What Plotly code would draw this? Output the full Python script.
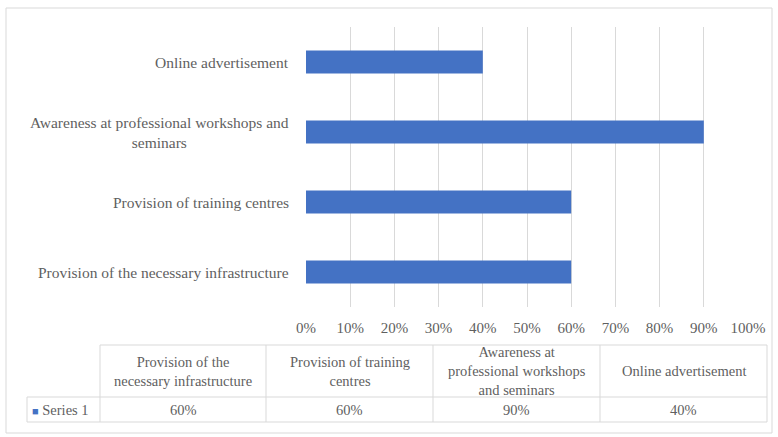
import plotly.graph_objects as go

categories = [
    "Provision of the necessary infrastructure",
    "Provision of training centres",
    "Awareness at professional workshops and<br>seminars",
    "Online advertisement",
]
values = [0.60, 0.60, 0.90, 0.40]
series_name = "Series 1"
table_headers = [
    "Provision of the<br>necessary infrastructure",
    "Provision of training<br>centres",
    "Awareness at<br>professional workshops<br>and seminars",
    "Online advertisement",
]
table_values = ["60%", "60%", "90%", "40%"]
tick_vals = [i / 10 for i in range(11)]
tick_text = [f"{i*10}%" for i in range(11)]

W, H = 778, 437
BAR = "#4472c4"
TXT = "#5f5f5f"
GRID = "#d9d9d9"
FONT = "Liberation Serif"


def px(x):
    return x / W


def py(y):
    return 1 - y / H


fig = go.Figure()
fig.add_trace(go.Bar(
    y=categories, x=values, orientation="h",
    marker=dict(color=BAR, line=dict(width=0)),
    width=0.33, showlegend=False, hoverinfo="x+y",
))

annotations = []
shapes = []

# category labels (centered multi-line, right-anchored)
for c in categories:
    annotations.append(dict(
        x=px(291), xref="paper", y=c, yref="y", text=c,
        xanchor="right", yanchor="middle", align="center", showarrow=False,
        font=dict(family=FONT, size=15.5, color=TXT),
    ))

# data table
col_edges = [100, 266, 433, 600, 767]
label_left = 27
t_top, t_mid, t_bot = 345, 397, 422
line = dict(color=GRID, width=1)
shapes.append(dict(type="line", xref="paper", yref="paper",
                   x0=px(col_edges[0]), x1=px(col_edges[-1]), y0=py(t_top), y1=py(t_top), line=line))
for yy in (t_mid, t_bot):
    shapes.append(dict(type="line", xref="paper", yref="paper",
                       x0=px(label_left), x1=px(col_edges[-1]), y0=py(yy), y1=py(yy), line=line))
for xx in col_edges:
    shapes.append(dict(type="line", xref="paper", yref="paper",
                       x0=px(xx), x1=px(xx), y0=py(t_top), y1=py(t_bot), line=line))
shapes.append(dict(type="line", xref="paper", yref="paper",
                   x0=px(label_left), x1=px(label_left), y0=py(t_mid), y1=py(t_bot), line=line))

for i, (h, v) in enumerate(zip(table_headers, table_values)):
    cx = (col_edges[i] + col_edges[i + 1]) / 2
    annotations.append(dict(
        x=px(cx), xref="paper", y=py((t_top + t_mid) / 2), yref="paper", text=h,
        xanchor="center", yanchor="middle", align="center", showarrow=False,
        font=dict(family=FONT, size=14.5, color=TXT),
    ))
    annotations.append(dict(
        x=px(cx), xref="paper", y=py((t_mid + t_bot) / 2), yref="paper", text=v,
        xanchor="center", yanchor="middle", align="center", showarrow=False,
        font=dict(family=FONT, size=14.5, color=TXT),
    ))
annotations.append(dict(
    x=px(label_left + 3), xref="paper", y=py((t_mid + t_bot) / 2), yref="paper",
    text=f"<span style='color:{BAR};font-size:11px'>■</span> {series_name}",
    xanchor="left", yanchor="middle", align="left", showarrow=False,
    font=dict(family=FONT, size=14.5, color=TXT),
))

# chart border
shapes.append(dict(
    type="rect", xref="paper", yref="paper",
    x0=px(6), x1=px(772), y0=py(433), y1=py(8),
    line=dict(color=GRID, width=1), fillcolor="rgba(0,0,0,0)", layer="below",
))

fig.update_layout(
    width=W, height=H,
    margin=dict(l=0, r=0, t=0, b=0),
    paper_bgcolor="white", plot_bgcolor="white",
    font=dict(family=FONT, size=15, color=TXT),
    xaxis=dict(
        domain=[px(306), px(748)], range=[0, 1],
        tickvals=tick_vals, ticktext=tick_text,
        showgrid=True, gridcolor=GRID, gridwidth=1,
        zeroline=False, showline=False, ticks="",
        ticklabelstandoff=10,
        tickfont=dict(family=FONT, size=15, color=TXT),
        fixedrange=True, automargin=False,
    ),
    yaxis=dict(
        domain=[py(307), py(27)],
        categoryorder="array", categoryarray=categories,
        showgrid=False, zeroline=False, showline=False, ticks="",
        showticklabels=False, automargin=False, fixedrange=True,
    ),
    shapes=shapes,
    annotations=annotations,
)

fig.write_html(
    "out.html",
    config={"displayModeBar": False},
    post_script="document.body.style.margin='0';",
)
